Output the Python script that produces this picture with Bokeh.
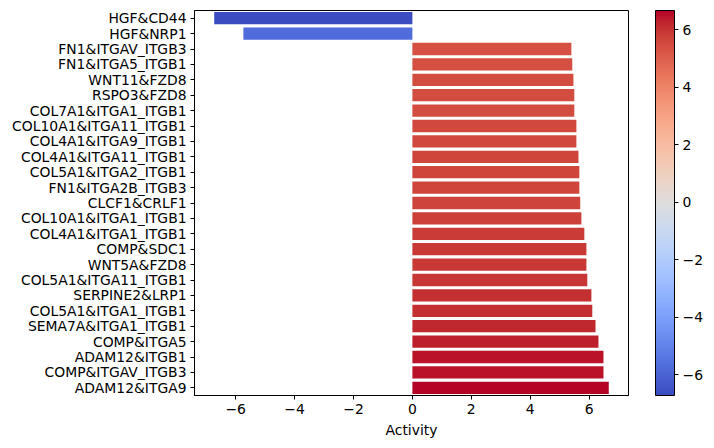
from bokeh.plotting import figure
from bokeh.models import (ColumnDataSource, FactorRange, Range1d, FixedTicker,
                          LinearColorMapper, ColorBar)
from bokeh.transform import linear_cmap
from bokeh.embed import file_html
from bokeh.resources import INLINE

# Ligand-receptor pairs (top to bottom) and their activity scores
pairs = [
    "HGF&CD44", "HGF&NRP1", "FN1&ITGAV_ITGB3", "FN1&ITGA5_ITGB1", "WNT11&FZD8",
    "RSPO3&FZD8", "COL7A1&ITGA1_ITGB1", "COL10A1&ITGA11_ITGB1", "COL4A1&ITGA9_ITGB1",
    "COL4A1&ITGA11_ITGB1", "COL5A1&ITGA2_ITGB1", "FN1&ITGA2B_ITGB3", "CLCF1&CRLF1",
    "COL10A1&ITGA1_ITGB1", "COL4A1&ITGA1_ITGB1", "COMP&SDC1", "WNT5A&FZD8",
    "COL5A1&ITGA11_ITGB1", "SERPINE2&LRP1", "COL5A1&ITGA1_ITGB1", "SEMA7A&ITGA1_ITGB1",
    "COMP&ITGA5", "ADAM12&ITGB1", "COMP&ITGAV_ITGB3", "ADAM12&ITGA9",
]
activity = [
    -6.73, -5.74, 5.40, 5.43, 5.47,
    5.50, 5.50, 5.57, 5.57,
    5.64, 5.67, 5.67, 5.70,
    5.74, 5.84, 5.91, 5.91,
    5.94, 6.08, 6.11, 6.22,
    6.32, 6.49, 6.49, 6.67,
]
x_ticks = [-6, -4, -2, 0, 2, 4, 6]
cbar_ticks = [-6, -4, -2, 0, 2, 4, 6]

# Diverging blue-white-red (coolwarm) anchor colours
_anchors = [
    (59, 76, 192), (68, 90, 204), (77, 104, 215), (87, 117, 225), (98, 130, 234),
    (108, 142, 241), (119, 154, 247), (130, 165, 251), (141, 176, 254), (152, 185, 255),
    (163, 194, 255), (174, 201, 253), (184, 208, 249), (194, 213, 244), (204, 217, 238),
    (213, 219, 230), (221, 221, 221), (229, 216, 209), (236, 211, 197), (241, 204, 184),
    (245, 196, 172), (247, 187, 160), (247, 177, 148), (247, 166, 135), (244, 154, 123),
    (241, 141, 111), (236, 127, 99), (229, 112, 88), (222, 96, 77), (213, 80, 66),
    (203, 62, 56), (192, 40, 47), (180, 4, 38),
]


def build_palette(anchors, n=256):
    out = []
    m = len(anchors) - 1
    for i in range(n):
        t = i / (n - 1) * m
        k = min(int(t), m - 1)
        f = t - k
        a, b = anchors[k], anchors[k + 1]
        rgb = [round(a[j] + (b[j] - a[j]) * f) for j in range(3)]
        out.append("#%02x%02x%02x" % tuple(rgb))
    return out


coolwarm = build_palette(_anchors)

lo, hi = min(activity), max(activity)
pad = 0.05 * (hi - lo)

source = ColumnDataSource(dict(pair=pairs, activity=activity))

FONT = "DejaVu Sans"
FS = "13.9px"

p = figure(
    width=714, height=448,
    y_range=FactorRange(*reversed(pairs), range_padding=0),
    x_range=Range1d(lo - pad, hi + pad),
    output_backend="svg", toolbar_location=None,
    min_border_left=194, min_border_right=86, min_border_top=10, min_border_bottom=53,
)

p.hbar(y="pair", left=0, right="activity", height=0.8, source=source,
       fill_color=linear_cmap("activity", coolwarm, lo, hi), line_color=None)

p.xgrid.visible = False
p.ygrid.visible = False
p.outline_line_color = "black"
p.outline_line_width = 1

minus = lambda v: str(v).replace("-", "\u2212")

for ax in (p.xaxis[0], p.yaxis[0]):
    ax.major_label_text_font = FONT
    ax.major_label_text_font_size = FS
    ax.major_label_text_color = "black"
    ax.major_tick_in = 0
    ax.major_tick_out = 4
    ax.minor_tick_line_color = None
    ax.axis_line_color = "black"
    ax.major_tick_line_color = "black"
    ax.major_label_standoff = 4

p.xaxis.ticker = FixedTicker(ticks=x_ticks)
p.xaxis.major_label_overrides = {t: minus(t) for t in x_ticks}
p.xaxis.axis_label = "Activity"
p.xaxis.axis_label_text_font = FONT
p.xaxis.axis_label_text_font_size = FS
p.xaxis.axis_label_text_font_style = "normal"
p.xaxis.axis_label_text_color = "black"
p.xaxis.axis_label_standoff = 5

mapper = LinearColorMapper(palette=coolwarm, low=lo, high=hi)
cbar = ColorBar(
    color_mapper=mapper,
    ticker=FixedTicker(ticks=cbar_ticks),
    major_label_overrides={t: minus(t) for t in cbar_ticks},
    width=19, height=385,
    margin=0, padding=0,
    bar_line_color="black",
    major_tick_in=0, major_tick_out=4,
    major_tick_line_color="black",
    minor_tick_line_color=None,
    major_label_text_font=FONT,
    major_label_text_font_size=FS,
    major_label_text_color="black",
    label_standoff=4,
    location=(27, 0),
)
p.add_layout(cbar, "right")

open("out.html", "w").write(file_html(p, INLINE))
